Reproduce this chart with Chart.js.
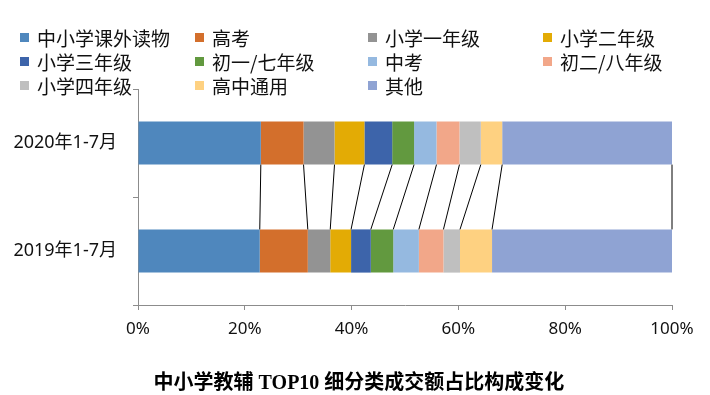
<!DOCTYPE html>
<html><head><meta charset="utf-8">
<script src="https://cdn.jsdelivr.net/npm/chart.js@4"></script>
<style>
html,body{margin:0;padding:0;background:#fff;}
#wrap{position:relative;width:710px;height:395px;overflow:hidden;}
#c{position:absolute;left:0;top:0;}
#legend{position:absolute;left:20px;top:25px;display:grid;grid-template-columns:175px 173px 175px 160px;grid-auto-rows:24px;font-family:"Noto Sans CJK SC",sans-serif;font-size:19px;color:#111;}
.li{display:flex;align-items:center;white-space:nowrap;}
.sw{width:9px;height:9px;margin-right:8px;flex:none;}
#title{position:absolute;left:0;width:718px;top:366px;text-align:center;font-family:"Liberation Serif","Noto Sans CJK SC",serif;font-weight:bold;font-size:20px;color:#000;}
</style></head>
<body><div id="wrap"><canvas id="c" width="710" height="395"></canvas><div id="legend"></div><div id="title">中小学教辅 TOP10 细分类成交额占比构成变化</div></div>
<script>
const categories = ['2020年1-7月', '2019年1-7月'];
const seriesNames = ['中小学课外读物','高考','小学一年级','小学二年级','小学三年级','初一/七年级','中考','初二/八年级','小学四年级','高中通用','其他'];
const values2020 = [23.0, 8.0, 5.8, 5.6, 5.2, 4.1, 4.2, 4.3, 4.0, 4.0, 31.8];
const values2019 = [22.8, 9.0, 4.2, 3.9, 3.7, 4.2, 4.8, 4.6, 3.1, 6.0, 33.7];
const xTicks = [0, 20, 40, 60, 80, 100];
const colors = ['#4f87bd','#d36f2c','#939393','#e3ab05','#3d64aa','#62993f','#95b9e0','#f2a789','#bfbfbf','#fed181','#8fa3d3'];

const datasets = seriesNames.map((n, i) => ({
  label: n,
  data: [values2020[i], values2019[i]],
  backgroundColor: colors[i],
  borderWidth: 0,
  categoryPercentage: 1.0,
  barPercentage: 0.4
}));

const seriesLines = {
  id: 'seriesLines',
  afterDatasetsDraw(chart) {
    const ctx = chart.ctx;
    ctx.save();
    ctx.strokeStyle = '#000';
    ctx.lineWidth = 1;
    chart.data.datasets.forEach((ds, i) => {
      const meta = chart.getDatasetMeta(i);
      const a = meta.data[0], b = meta.data[1];
      if (!a || !b) return;
      ctx.beginPath();
      ctx.moveTo(a.x, a.y + a.height / 2);
      ctx.lineTo(b.x, b.y - b.height / 2);
      ctx.stroke();
    });
    ctx.restore();
  }
};

new Chart(document.getElementById('c'), {
  type: 'bar',
  data: { labels: categories, datasets },
  options: {
    indexAxis: 'y',
    responsive: false,
    animation: false,
    layout: { padding: { top: 89, right: 38, left: 0, bottom: 0 } },
    plugins: { legend: { display: false }, title: { display: false }, tooltip: { enabled: false } },
    scales: {
      x: {
        stacked: true, min: 0, max: 100,
        afterBuildTicks: s => { s.ticks = xTicks.map(v => ({ value: v })); },
        afterFit: s => { s.height = 90; },
        ticks: { callback: v => v + '%', color: '#111', padding: 9, maxRotation: 0,
          font: { family: '"Noto Sans", "Noto Sans CJK SC", sans-serif', size: 17 } },
        grid: { drawOnChartArea: false, drawTicks: true, tickLength: 5, color: '#8c8c8c' },
        border: { color: '#8c8c8c', width: 1 }
      },
      y: {
        stacked: true,
        afterFit: s => { s.width = 138; },
        ticks: { color: '#111', padding: 16,
          font: { family: '"Noto Sans", "Noto Sans CJK SC", sans-serif', size: 18 } },
        grid: { offset: true, drawOnChartArea: false, drawTicks: true, tickLength: 5, color: '#8c8c8c' },
        border: { color: '#8c8c8c', width: 1 }
      }
    }
  },
  plugins: [seriesLines]
});

const lg = document.getElementById('legend');
seriesNames.forEach((n, i) => {
  const d = document.createElement('div');
  d.className = 'li';
  const sw = document.createElement('span');
  sw.className = 'sw';
  sw.style.background = colors[i];
  const t = document.createElement('span');
  t.textContent = n;
  d.appendChild(sw); d.appendChild(t);
  lg.appendChild(d);
});
</script></body></html>
